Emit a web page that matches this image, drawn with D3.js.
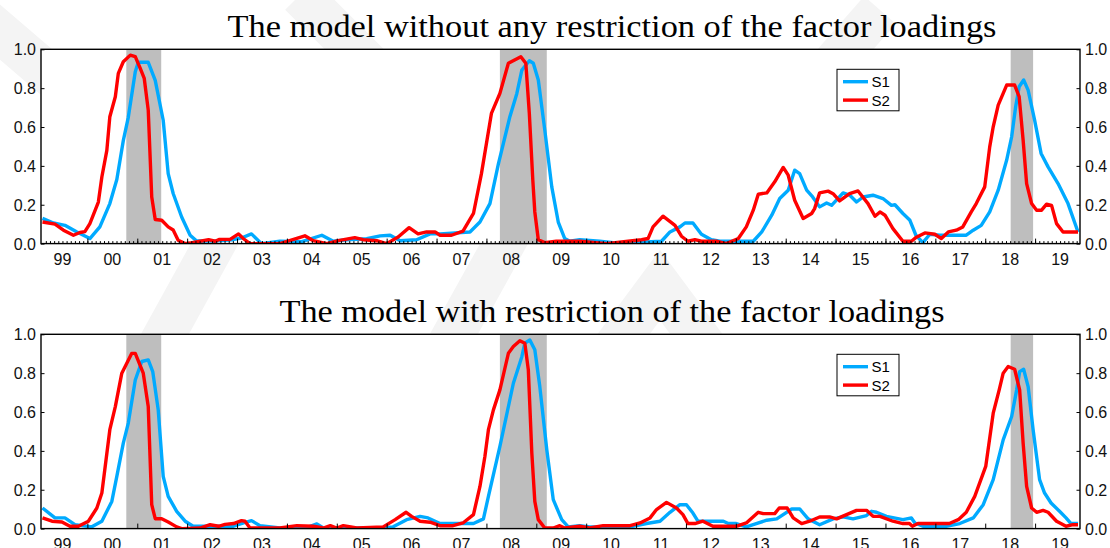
<!DOCTYPE html>
<html>
<head>
<meta charset="utf-8">
<script src="https://cdn.jsdelivr.net/npm/d3@7"></script>
<style>
	body { margin: 0 ; background: #fff ; }
	svg { display: block ; }
</style>
</head>
<body>
<svg id="chart"></svg>
<script>
// values: [decimal year, probability]
const titles = [
	'The model without any restriction of the factor loadings',
	'The model with restriction of the factor loadings'
] ;
const seriesNames = [ 'S1', 'S2' ] ;
const yTicks = [ 0, 0.2, 0.4, 0.6, 0.8, 1.0 ] ;
const yearLabels = [ '99','00','01','02','03','04','05','06','07','08','09','10','11','12','13','14','15','16','17','18','19' ] ;
const recessions = [ [2000.78, 2001.48], [2008.27, 2009.21], [2018.51, 2018.96] ] ;

const s1Top = [
	[1999.10,0.13],[1999.32,0.106],[1999.55,0.094],[1999.79,0.06],[2000.05,0.026],[2000.25,0.086],[2000.45,0.206],[2000.59,0.33],
	[2000.72,0.53],[2000.82,0.65],[2000.96,0.885],[2001.02,0.933],[2001.22,0.933],[2001.36,0.84],[2001.52,0.635],[2001.62,0.36],
	[2001.72,0.258],[2001.89,0.137],[2002.06,0.043],[2002.19,0.013],[2002.52,0.013],[2002.9,0.02],[2003.1,0.03],[2003.29,0.05],
	[2003.49,0.0],[2003.86,0.012],[2004.3,0.01],[2004.70,0.043],[2004.93,0.012],[2005.20,0.02],[2005.6,0.025],[2005.87,0.04],
	[2006.07,0.043],[2006.27,0.015],[2006.6,0.02],[2006.87,0.05],[2007.07,0.05],[2007.67,0.06],[2007.87,0.111],[2008.07,0.206],
	[2008.24,0.41],[2008.47,0.653],[2008.61,0.773],[2008.71,0.893],[2008.86,0.941],[2008.94,0.928],[2009.04,0.842],[2009.17,0.584],
	[2009.31,0.292],[2009.44,0.111],[2009.57,0.026],[2009.67,0.012],[2009.87,0.02],[2010.27,0.012],[2010.54,0.005],[2010.88,0.005],
	[2011.51,0.012],[2011.68,0.06],[2011.88,0.086],[2011.98,0.106],[2012.14,0.106],[2012.31,0.048],[2012.51,0.02],[2012.68,0.012],
	[2013.35,0.012],[2013.52,0.06],[2013.72,0.146],[2013.88,0.232],[2014.05,0.275],[2014.18,0.378],[2014.28,0.36],[2014.42,0.275],
	[2014.54,0.24],[2014.68,0.189],[2014.82,0.209],[2014.92,0.197],[2015.15,0.261],[2015.28,0.25],[2015.42,0.214],[2015.55,0.24],
	[2015.75,0.249],[2015.95,0.232],[2016.12,0.197],[2016.19,0.2],[2016.35,0.155],[2016.49,0.12],[2016.61,0.043],[2016.75,0.005],
	[2016.89,0.048],[2017.09,0.043],[2017.62,0.043],[2017.76,0.069],[2017.92,0.094],[2018.09,0.163],[2018.26,0.275],[2018.43,0.43],
	[2018.53,0.55],[2018.61,0.704],[2018.68,0.807],[2018.77,0.842],[2018.86,0.79],[2018.99,0.636],[2019.12,0.464],[2019.26,0.395],
	[2019.46,0.309],[2019.66,0.206],[2019.86,0.06]
] ;

const s2Top = [
	[1999.10,0.111],[1999.35,0.1],[1999.52,0.069],[1999.72,0.043],[1999.85,0.057],[1999.95,0.062],[2000.05,0.103],[2000.22,0.214],
	[2000.29,0.343],[2000.39,0.48],[2000.45,0.653],[2000.56,0.756],[2000.62,0.876],[2000.72,0.936],[2000.86,0.97],[2000.96,0.962],
	[2001.06,0.902],[2001.14,0.85],[2001.22,0.687],[2001.29,0.24],[2001.36,0.124],[2001.49,0.12],[2001.62,0.086],[2001.72,0.07],
	[2001.82,0.017],[2001.96,0.0],[2002.1,0.005],[2002.43,0.02],[2002.56,0.012],[2002.65,0.022],[2002.86,0.022],[2003.03,0.05],
	[2003.13,0.025],[2003.26,0.0],[2003.86,0.0],[2004.36,0.04],[2004.53,0.015],[2004.80,0.0],[2005.03,0.015],[2005.36,0.031],
	[2005.53,0.02],[2005.80,0.015],[2006.0,0.0],[2006.23,0.034],[2006.45,0.082],[2006.63,0.05],[2006.80,0.06],[2006.97,0.06],
	[2007.07,0.043],[2007.30,0.043],[2007.53,0.064],[2007.74,0.155],[2007.90,0.36],[2008.10,0.67],[2008.27,0.773],[2008.44,0.928],
	[2008.69,0.962],[2008.79,0.928],[2008.86,0.67],[2008.93,0.326],[2008.97,0.163],[2009.04,0.02],[2009.17,0.005],[2009.40,0.012],
	[2009.87,0.012],[2010.41,0.0],[2010.84,0.012],[2011.11,0.02],[2011.24,0.026],[2011.34,0.086],[2011.54,0.141],[2011.78,0.094],
	[2011.91,0.038],[2012.04,0.012],[2012.18,0.02],[2012.31,0.012],[2012.61,0.012],[2012.81,0.0],[2013.05,0.026],[2013.21,0.086],
	[2013.35,0.172],[2013.45,0.254],[2013.62,0.261],[2013.78,0.318],[2013.95,0.392],[2014.05,0.352],[2014.18,0.223],[2014.35,0.129],
	[2014.52,0.155],[2014.58,0.18],[2014.68,0.261],[2014.85,0.27],[2014.95,0.257],[2015.08,0.22],[2015.28,0.257],[2015.45,0.271],
	[2015.65,0.206],[2015.79,0.141],[2015.89,0.163],[2015.99,0.146],[2016.15,0.077],[2016.35,0.012],[2016.52,0.012],[2016.62,0.033],
	[2016.79,0.055],[2016.99,0.048],[2017.12,0.026],[2017.26,0.06],[2017.42,0.069],[2017.55,0.086],[2017.72,0.163],[2017.82,0.206],
	[2017.99,0.292],[2018.09,0.498],[2018.16,0.601],[2018.26,0.713],[2018.43,0.816],[2018.59,0.816],[2018.68,0.756],[2018.76,0.532],
	[2018.83,0.309],[2018.93,0.206],[2019.03,0.172],[2019.13,0.172],[2019.23,0.203],[2019.33,0.197],[2019.43,0.103],[2019.56,0.06],
	[2019.86,0.06]
] ;

const s1Bottom = [
	[1999.10,0.106],[1999.35,0.055],[1999.55,0.055],[1999.75,0.02],[2000.09,0.009],[2000.29,0.038],[2000.49,0.14],[2000.59,0.269],
	[2000.72,0.44],[2000.82,0.543],[2000.96,0.765],[2001.09,0.86],[2001.22,0.868],[2001.31,0.808],[2001.42,0.611],[2001.52,0.269],
	[2001.62,0.166],[2001.79,0.089],[2001.96,0.038],[2002.12,0.012],[2002.93,0.012],[2003.13,0.03],[2003.29,0.041],[2003.46,0.015],
	[2003.86,0.003],[2004.40,0.005],[2004.60,0.024],[2004.73,0.003],[2005.87,0.003],[2006.13,0.009],[2006.40,0.046],[2006.67,0.063],
	[2006.83,0.055],[2007.07,0.026],[2007.74,0.026],[2007.94,0.05],[2008.04,0.166],[2008.27,0.423],[2008.54,0.748],[2008.71,0.885],
	[2008.77,0.954],[2008.87,0.971],[2008.97,0.92],[2009.07,0.731],[2009.21,0.406],[2009.34,0.149],[2009.51,0.046],[2009.64,0.009],
	[2009.87,0.015],[2010.07,0.009],[2010.88,0.009],[2011.21,0.026],[2011.48,0.038],[2011.68,0.084],[2011.88,0.123],[2012.01,0.123],
	[2012.14,0.08],[2012.24,0.038],[2012.75,0.038],[2012.85,0.026],[2013.01,0.026],[2013.21,0.009],[2013.41,0.026],[2013.62,0.043],
	[2013.82,0.05],[2014.12,0.101],[2014.28,0.101],[2014.45,0.05],[2014.68,0.02],[2014.95,0.05],[2015.15,0.06],[2015.35,0.05],
	[2015.62,0.067],[2015.72,0.089],[2015.82,0.084],[2016.02,0.063],[2016.35,0.046],[2016.52,0.055],[2016.59,0.029],[2016.75,0.012],
	[2017.22,0.012],[2017.49,0.026],[2017.76,0.055],[2017.96,0.123],[2018.16,0.252],[2018.36,0.457],[2018.53,0.577],[2018.63,0.714],
	[2018.69,0.808],[2018.77,0.82],[2018.86,0.731],[2018.96,0.509],[2019.09,0.252],[2019.19,0.183],[2019.32,0.132],[2019.49,0.089],
	[2019.62,0.055],[2019.72,0.026],[2019.86,0.026]
] ;

const s2Bottom = [
	[1999.10,0.055],[1999.29,0.038],[1999.49,0.034],[1999.65,0.012],[1999.82,0.012],[2000.02,0.038],[2000.19,0.106],[2000.29,0.183],
	[2000.45,0.509],[2000.56,0.628],[2000.69,0.8],[2000.79,0.851],[2000.89,0.902],[2000.96,0.902],[2001.12,0.8],[2001.22,0.628],
	[2001.29,0.123],[2001.36,0.051],[2001.49,0.051],[2001.62,0.034],[2001.79,0.009],[2001.89,0.0],[2002.26,0.003],[2002.46,0.02],
	[2002.63,0.012],[2002.76,0.022],[2002.93,0.026],[2003.09,0.041],[2003.16,0.038],[2003.26,0.003],[2003.86,0.003],[2004.20,0.015],
	[2004.53,0.012],[2004.73,0.003],[2004.87,0.015],[2005.00,0.003],[2005.13,0.015],[2005.40,0.003],[2005.93,0.009],[2006.17,0.046],
	[2006.39,0.084],[2006.50,0.063],[2006.67,0.038],[2006.87,0.033],[2007.07,0.015],[2007.33,0.015],[2007.53,0.029],[2007.74,0.072],
	[2007.87,0.217],[2007.97,0.372],[2008.04,0.509],[2008.14,0.611],[2008.27,0.714],[2008.44,0.902],[2008.54,0.937],[2008.67,0.967],
	[2008.77,0.954],[2008.84,0.817],[2008.91,0.389],[2008.97,0.14],[2009.04,0.046],[2009.17,0.003],[2009.34,0.003],[2009.47,0.015],
	[2009.57,0.003],[2009.87,0.012],[2010.07,0.003],[2010.34,0.015],[2010.88,0.015],[2011.08,0.029],[2011.28,0.055],[2011.41,0.098],
	[2011.61,0.135],[2011.81,0.106],[2011.94,0.072],[2012.04,0.026],[2012.18,0.026],[2012.34,0.038],[2012.54,0.012],[2013.01,0.012],
	[2013.21,0.029],[2013.45,0.084],[2013.55,0.077],[2013.78,0.077],[2013.87,0.106],[2014.03,0.106],[2014.15,0.055],[2014.32,0.026],
	[2014.48,0.038],[2014.68,0.06],[2014.88,0.06],[2015.02,0.05],[2015.22,0.072],[2015.42,0.094],[2015.62,0.094],[2015.75,0.063],
	[2015.89,0.063],[2016.15,0.038],[2016.35,0.026],[2016.48,0.026],[2016.54,0.012],[2016.65,0.026],[2017.28,0.026],[2017.46,0.046],
	[2017.62,0.084],[2017.79,0.166],[2018.01,0.32],[2018.16,0.594],[2018.28,0.714],[2018.36,0.8],[2018.46,0.834],[2018.59,0.82],
	[2018.69,0.714],[2018.76,0.44],[2018.83,0.217],[2018.93,0.106],[2019.03,0.084],[2019.16,0.094],[2019.26,0.084],[2019.43,0.038],
	[2019.62,0.012],[2019.76,0.02],[2019.86,0.02]
] ;

const panels = [
	{ title: titles[0], series: [ s1Top, s2Top ], minorTicks: true },
	{ title: titles[1], series: [ s1Bottom, s2Bottom ], minorTicks: false }
] ;

const colors = [ '#00aaff', '#ff0000' ] ;

const geom = {
	width: 1110,
	height: 548,
	left: 41,
	right: 1080,
	panelTop: [ 49.3, 334.3 ],
	panelHeight: 194.3,
	titleX: 612,
	titleWidth: [ 769, 665 ]
} ;

const svg = d3.select( '#chart' )
	.attr( 'width', geom.width )
	.attr( 'height', geom.height )
	.style( 'font-family', "'Liberation Sans', Arial, sans-serif" ) ;

// faint background watermark
const wm = svg.append( 'g' )
	.attr( 'fill', 'none' )
	.attr( 'stroke', '#f4f4f4' )
	.attr( 'stroke-width', 42 ) ;
[ [[-20,15],[225,225],[90,470]], [[300,-5],[520,215],[395,440]], [[880,10],[700,215]], [[560,420],[660,285],[760,420]] ]
	.forEach( pts => wm.append( 'path' ).attr( 'd', d3.line()( pts ) ) ) ;

const x = d3.scaleLinear()
	.domain( [ 1999.07, 2019.9 ] )
	.range( [ geom.left, geom.right ] ) ;

panels.forEach( ( panel, i ) => {
	const top = geom.panelTop[i] ;
	const bottom = top + geom.panelHeight ;
	const y = d3.scaleLinear()
		.domain( [ 0, 1 ] )
		.range( [ bottom, top ] ) ;

	const g = svg.append( 'g' ) ;
	const clipId = 'clip' + i ;
	g.append( 'clipPath' )
		.attr( 'id', clipId )
		.append( 'rect' )
		.attr( 'x', geom.left )
		.attr( 'y', top - 3 )
		.attr( 'width', geom.right - geom.left )
		.attr( 'height', geom.panelHeight + 3 ) ;

	g.append( 'rect' )
		.attr( 'x', geom.left )
		.attr( 'y', top )
		.attr( 'width', geom.right - geom.left )
		.attr( 'height', geom.panelHeight )
		.attr( 'fill', '#fff' ) ;

	g.selectAll( 'rect.recession' )
		.data( recessions )
		.enter()
		.append( 'rect' )
		.attr( 'class', 'recession' )
		.attr( 'x', d => x(d[0]) )
		.attr( 'y', top )
		.attr( 'width', d => x(d[1]) - x(d[0]) )
		.attr( 'height', geom.panelHeight )
		.attr( 'fill', '#bebebe' ) ;

	const line = d3.line()
		.x( d => x(d[0]) )
		.y( d => y(d[1]) ) ;

	g.selectAll( 'path.series' )
		.data( panel.series )
		.enter()
		.append( 'path' )
		.attr( 'class', 'series' )
		.attr( 'clip-path', 'url(#' + clipId + ')' )
		.attr( 'd', line )
		.attr( 'fill', 'none' )
		.attr( 'stroke', ( d, j ) => colors[j] )
		.attr( 'stroke-width', 3.4 )
		.attr( 'stroke-linejoin', 'round' ) ;

	// axes: ticks point inward, like the original
	const years = d3.range( 2000, 2020 ) ;
	if( panel.minorTicks ) {
		const months = d3.range( 1999 + 2/12, 2019.9, 1/12 ) ;
		g.append( 'g' )
			.attr( 'transform', 'translate(0 ' + bottom + ')' )
			.call( d3.axisTop( x ).tickValues( months ).tickSize( 2.5 ).tickFormat( '' ) )
			.call( a => a.select( '.domain' ).remove() ) ;
	}
	g.append( 'g' )
		.attr( 'transform', 'translate(0 ' + bottom + ')' )
		.call( d3.axisTop( x ).tickValues( years ).tickSize( 5 ).tickFormat( '' ) )
		.call( a => a.select( '.domain' ).remove() ) ;

	g.selectAll( 'text.year' )
		.data( yearLabels )
		.enter()
		.append( 'text' )
		.attr( 'class', 'year' )
		.attr( 'x', ( d, j ) => x( 1999.5 + j ) )
		.attr( 'y', bottom + 21.2 )
		.attr( 'text-anchor', 'middle' )
		.attr( 'font-size', '16px' )
		.attr( 'fill', '#111' )
		.text( d => d ) ;

	g.append( 'g' )
		.attr( 'transform', 'translate(' + geom.left + ' 0)' )
		.call( d3.axisRight( y ).tickValues( yTicks ).tickSize( 3.5 ).tickFormat( '' ) )
		.call( a => a.select( '.domain' ).remove() ) ;
	g.append( 'g' )
		.attr( 'transform', 'translate(' + geom.right + ' 0)' )
		.call( d3.axisLeft( y ).tickValues( yTicks ).tickSize( 3.5 ).tickFormat( '' ) )
		.call( a => a.select( '.domain' ).remove() ) ;

	g.selectAll( 'text.yl' )
		.data( yTicks )
		.enter()
		.append( 'text' )
		.attr( 'class', 'yl' )
		.attr( 'x', geom.left - 5 )
		.attr( 'y', d => y(d) + 6 )
		.attr( 'text-anchor', 'end' )
		.attr( 'font-size', '16px' )
		.attr( 'fill', '#111' )
		.text( d => d3.format( '.1f' )(d) ) ;
	g.selectAll( 'text.yr' )
		.data( yTicks )
		.enter()
		.append( 'text' )
		.attr( 'class', 'yr' )
		.attr( 'x', geom.right + 5 )
		.attr( 'y', d => y(d) + 6 )
		.attr( 'text-anchor', 'start' )
		.attr( 'font-size', '16px' )
		.attr( 'fill', '#111' )
		.text( d => d3.format( '.1f' )(d) ) ;

	g.append( 'rect' )
		.attr( 'x', geom.left )
		.attr( 'y', top )
		.attr( 'width', geom.right - geom.left )
		.attr( 'height', geom.panelHeight )
		.attr( 'fill', 'none' )
		.attr( 'stroke', '#000' )
		.attr( 'stroke-width', 1.4 ) ;

	svg.append( 'text' )
		.attr( 'x', geom.titleX )
		.attr( 'y', top - 12 )
		.attr( 'text-anchor', 'middle' )
		.style( 'font-family', "'Liberation Serif', 'Times New Roman', serif" )
		.attr( 'font-size', '31px' )
		.attr( 'textLength', geom.titleWidth[i] )
		.attr( 'lengthAdjust', 'spacingAndGlyphs' )
		.attr( 'fill', '#000' )
		.text( panel.title ) ;

	// legend
	const lg = g.append( 'g' )
		.attr( 'transform', 'translate(837 ' + (top + 20) + ')' ) ;
	lg.append( 'rect' )
		.attr( 'width', 62 )
		.attr( 'height', 41.5 )
		.attr( 'fill', '#fff' )
		.attr( 'stroke', '#000' )
		.attr( 'stroke-width', 1 ) ;
	seriesNames.forEach( ( name, j ) => {
		const ly = 12.4 + j * 18.4 ;
		lg.append( 'line' )
			.attr( 'x1', 6 )
			.attr( 'x2', 31 )
			.attr( 'y1', ly )
			.attr( 'y2', ly )
			.attr( 'stroke', colors[j] )
			.attr( 'stroke-width', 3.4 ) ;
		lg.append( 'text' )
			.attr( 'x', 34.5 )
			.attr( 'y', ly + 5.5 )
			.attr( 'font-size', '15px' )
			.attr( 'fill', '#000' )
			.text( name ) ;
	} ) ;
} ) ;
</script>
</body>
</html>
